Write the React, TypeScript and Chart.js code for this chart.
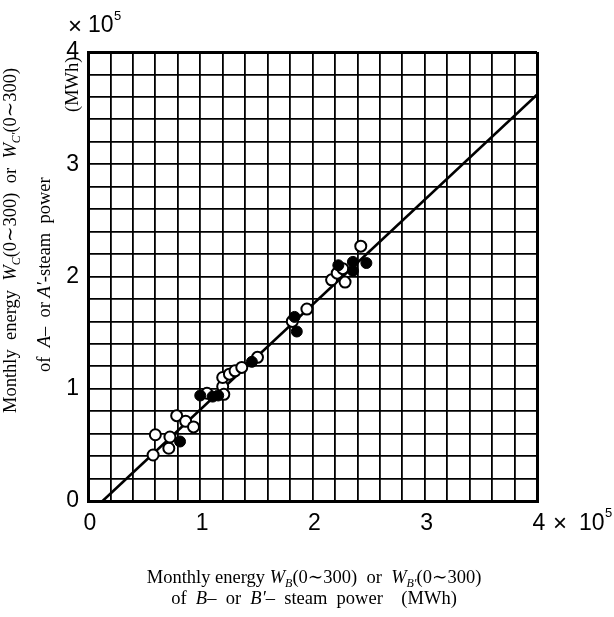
import React, { useEffect, useRef } from 'react';
import { Chart, registerables } from 'chart.js';
Chart.register(...registerables);

// ---- data (units of 10^5 MWh) ----
const openX = [0.58, 0.60, 0.72, 0.73, 0.79, 0.87, 0.94, 1.06, 1.20, 1.20, 1.21, 1.26, 1.31, 1.37, 1.51, 1.82, 1.95, 2.17, 2.22, 2.27, 2.29, 2.43];
const openY = [0.41, 0.59, 0.47, 0.57, 0.76, 0.71, 0.66, 0.96, 1.02, 1.10, 0.95, 1.13, 1.16, 1.19, 1.28, 1.60, 1.71, 1.97, 2.03, 2.07, 1.95, 2.27];
const filledX = [0.82, 1.00, 1.11, 1.16, 1.46, 1.84, 1.86, 2.23, 2.36, 2.36, 2.48];
const filledY = [0.53, 0.94, 0.93, 0.94, 1.24, 1.64, 1.51, 2.10, 2.13, 2.05, 2.12];
const fitX = [0.13, 4.0];
const fitY = [0.0, 3.62];
const xTickLabels = ['0', '1', '2', '3', '4'];
const yTickLabels = ['0', '1', '2', '3', '4'];
const axisMin = 0;
const axisMax = 4;
const gridStep = 0.2;

const SERIF = "'Liberation Serif', 'DejaVu Serif', serif";
const SANS = "'Liberation Sans', 'DejaVu Sans', sans-serif";

type Seg = { t: string; f: string; dy?: number };

function drawSegs(ctx: CanvasRenderingContext2D, segs: Seg[], x: number, y: number, align: 'left' | 'center') {
  let w = 0;
  for (const s of segs) { ctx.font = s.f; w += ctx.measureText(s.t).width; }
  let cx = align === 'center' ? x - w / 2 : x;
  ctx.textAlign = 'left';
  ctx.textBaseline = 'alphabetic';
  for (const s of segs) {
    ctx.font = s.f;
    ctx.fillText(s.t, cx, y + (s.dy || 0));
    cx += ctx.measureText(s.t).width;
  }
}

const R = `18.5px ${SERIF}`;
const I = `italic 18.5px ${SERIF}`;
const SUB = `italic 12px ${SERIF}`;

const textPlugin = {
  id: 'richText',
  afterDraw(chart: any) {
    const ctx: CanvasRenderingContext2D = chart.ctx;
    ctx.save();
    ctx.fillStyle = '#000';
    // x-axis title
    drawSegs(ctx, [
      { t: 'Monthly energy ', f: R },
      { t: 'W', f: I },
      { t: 'B', f: SUB, dy: 4 },
      { t: '(0∼300)  or  ', f: R },
      { t: 'W', f: I },
      { t: 'B′', f: SUB, dy: 4 },
      { t: '(0∼300)', f: R },
    ], 314, 583, 'center');
    drawSegs(ctx, [
      { t: 'of  ', f: R },
      { t: 'B', f: I },
      { t: '–  or  ', f: R },
      { t: 'B′', f: I },
      { t: '–  steam  power    (MWh)', f: R },
    ], 314, 604, 'center');

    // y-axis title (rotated)
    ctx.save();
    ctx.translate(16, 413);
    ctx.rotate(-Math.PI / 2);
    drawSegs(ctx, [
      { t: 'Monthly  energy  ', f: R },
      { t: 'W', f: I },
      { t: 'C', f: SUB, dy: 4 },
      { t: '(0∼300)  or  ', f: R },
      { t: 'W', f: I },
      { t: 'C′', f: SUB, dy: 4 },
      { t: '(0∼300)', f: R },
    ], 0, 0, 'left');
    ctx.restore();

    ctx.save();
    ctx.translate(50, 372);
    ctx.rotate(-Math.PI / 2);
    drawSegs(ctx, [
      { t: 'of  ', f: R },
      { t: 'A', f: I },
      { t: '–  or ', f: R },
      { t: 'A′', f: I },
      { t: '-steam  power', f: R },
    ], 0, 0, 'left');
    ctx.restore();

    ctx.save();
    ctx.translate(78, 112);
    ctx.rotate(-Math.PI / 2);
    drawSegs(ctx, [{ t: '(MWh)', f: R }], 0, 0, 'left');
    ctx.restore();

    // exponent markers
    drawSegs(ctx, [{ t: '×', f: `24px ${SANS}` }], 68, 34, 'left');
    drawSegs(ctx, [{ t: '10', f: `23px ${SANS}` }], 88, 32, 'left');
    drawSegs(ctx, [{ t: '5', f: `13px ${SANS}` }], 114, 20, 'left');

    drawSegs(ctx, [{ t: '×', f: `24px ${SANS}` }], 553, 531, 'left');
    drawSegs(ctx, [{ t: '10', f: `23px ${SANS}` }], 579, 530, 'left');
    drawSegs(ctx, [{ t: '5', f: `13px ${SANS}` }], 605, 517, 'left');
    ctx.restore();
  },
};

const isInt = (v: number) => Math.abs(v - Math.round(v)) < 1e-6;

export default function App() {
  const ref = useRef<HTMLCanvasElement | null>(null);
  useEffect(() => {
    if (!ref.current) return;
    const gridWidth = (c: any) => {
      const v = c.tick ? c.tick.value : 0;
      return Math.abs(v - axisMin) < 1e-6 || Math.abs(v - axisMax) < 1e-6 ? 3 : 1.8;
    };
    const tickFont = { family: SANS, size: 23 };
    const chart = new Chart(ref.current, {
      type: 'scatter',
      data: {
        datasets: [
          {
            label: 'fit',
            data: fitX.map((x, i) => ({ x, y: fitY[i] })),
            showLine: true,
            borderColor: '#000',
            borderWidth: 2.6,
            pointRadius: 0,
            order: 3,
          },
          {
            label: 'open',
            data: openX.map((x, i) => ({ x, y: openY[i] })),
            pointRadius: 5.5,
            pointBorderWidth: 2,
            borderColor: '#000',
            backgroundColor: '#fff',
            pointBackgroundColor: '#fff',
            pointBorderColor: '#000',
            order: 2,
          },
          {
            label: 'filled',
            data: filledX.map((x, i) => ({ x, y: filledY[i] })),
            pointRadius: 5.5,
            pointBorderWidth: 1,
            borderColor: '#000',
            backgroundColor: '#000',
            pointBackgroundColor: '#000',
            pointBorderColor: '#000',
            order: 1,
          },
        ],
      },
      options: {
        responsive: false,
        animation: false,
        layout: { padding: { left: 0, right: 77, top: 52, bottom: 0 } },
        plugins: { legend: { display: false }, tooltip: { enabled: false } },
        scales: {
          x: {
            type: 'linear',
            min: axisMin,
            max: axisMax,
            afterFit: (s: any) => { s.height = 116; },
            border: { display: true, color: '#000', width: 3 },
            grid: { color: '#000', lineWidth: gridWidth, drawTicks: false },
            ticks: {
              stepSize: gridStep,
              autoSkip: false,
              maxRotation: 0,
              padding: 9,
              labelOffset: 2,
              color: '#000',
              font: tickFont,
              callback: (v: any) => (isInt(Number(v)) ? xTickLabels[Math.round(Number(v))] : ''),
            },
          },
          y: {
            type: 'linear',
            min: axisMin,
            max: axisMax,
            afterFit: (s: any) => { s.width = 88; },
            border: { display: true, color: '#000', width: 3 },
            grid: { color: '#000', lineWidth: gridWidth, drawTicks: false },
            ticks: {
              stepSize: gridStep,
              autoSkip: false,
              padding: 9,
              color: '#000',
              font: tickFont,
              callback: (v: any) => (isInt(Number(v)) ? yTickLabels[Math.round(Number(v))] : ''),
            },
          },
        },
      },
      plugins: [textPlugin],
    } as any);
    return () => chart.destroy();
  }, []);
  return (
    <div style={{ position: 'absolute', left: 0, top: 0, width: 614, height: 617, background: '#fff' }}>
      <canvas ref={ref} width={614} height={617} style={{ display: 'block' }} />
    </div>
  );
}
